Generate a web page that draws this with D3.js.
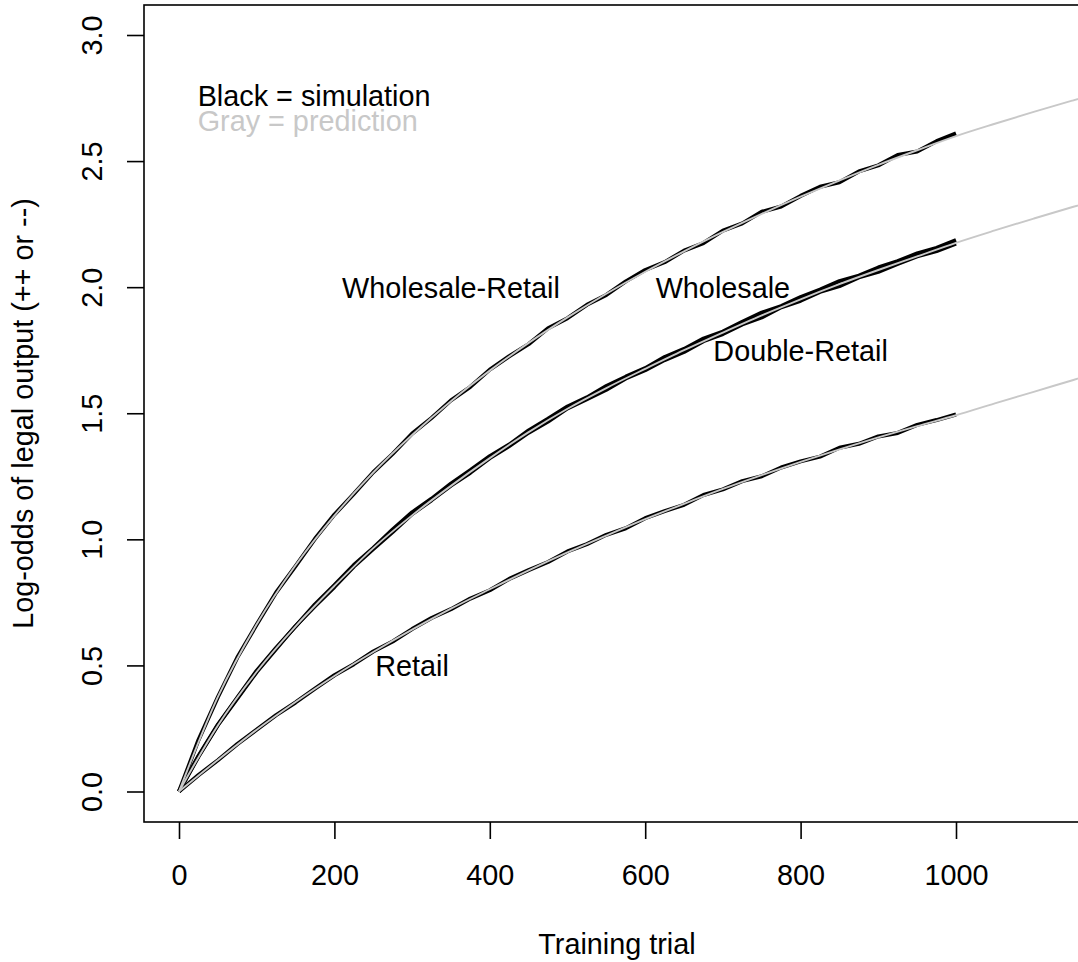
<!DOCTYPE html>
<html><head><meta charset="utf-8">
<script src="https://cdn.jsdelivr.net/npm/d3@7"></script>
<style>
body{margin:0;background:#fff}
text{font-family:"Liberation Sans",Arial,Helvetica,sans-serif}
</style></head>
<body><svg id="c" width="1078" height="962"></svg>
<script>
// ---------- data ----------
const xTicks = [0, 200, 400, 600, 800, 1000];
const yTicks = [0.0, 0.5, 1.0, 1.5, 2.0, 2.5, 3.0];

const simTrials = [0,25,50,75,100,125,150,175,200,225,250,275,300,325,350,375,400,425,450,475,500,
  525,550,575,600,625,650,675,700,725,750,775,800,825,850,875,900,925,950,975,1000];

const simWholesaleRetail = [0,.204,.374,.531,.662,.789,.894,1.002,1.098,1.180,1.266,1.339,1.419,1.481,1.551,1.605,1.673,1.726,1.774,1.837,1.877,
  1.930,1.969,2.023,2.068,2.099,2.145,2.175,2.224,2.253,2.299,2.320,2.362,2.398,2.416,2.459,2.483,2.524,2.538,2.579,2.610];
const simWholesale = [0,.141,.265,.372,.479,.570,.655,.742,.818,.898,.966,1.039,1.107,1.161,1.221,1.274,1.330,1.376,1.432,1.478,1.527,
  1.563,1.608,1.645,1.679,1.723,1.755,1.796,1.824,1.863,1.899,1.925,1.961,1.990,2.024,2.046,2.078,2.103,2.134,2.156,2.187];
const simDoubleRetail = [0,.138,.263,.369,.474,.565,.656,.735,.811,.892,.962,1.029,1.100,1.155,1.213,1.264,1.322,1.370,1.423,1.467,1.519,
  1.556,1.593,1.638,1.671,1.711,1.743,1.786,1.814,1.852,1.880,1.920,1.946,1.981,2.004,2.039,2.061,2.092,2.122,2.143,2.173];
const simRetail = [0,.065,.124,.188,.245,.303,.353,.408,.461,.505,.555,.595,.644,.688,.723,.765,.798,.843,.878,.910,.952,
  .981,1.018,1.044,1.084,1.112,1.137,1.176,1.198,1.231,1.250,1.285,1.309,1.328,1.363,1.379,1.408,1.422,1.454,1.473,1.495];

const predTrials = [0,50,100,150,200,250,300,350,400,450,500,550,600,650,700,750,800,850,900,950,1000,1050,1100,1150,1200];
const predWholesaleRetail = [0,.375,.663,.897,1.094,1.265,1.414,1.548,1.669,1.779,1.880,1.974,2.061,2.142,2.219,2.291,2.359,2.423,2.485,2.543,2.599,2.648,2.695,2.740,2.784];
const predWholesaleDouble = [0,.262,.475,.655,.815,.965,1.095,1.212,1.322,1.425,1.518,1.600,1.676,1.750,1.820,1.888,1.952,2.012,2.068,2.122,2.176,2.225,2.272,2.318,2.362];
const predRetail = [0,.125,.245,.355,.458,.553,.642,.725,.802,.877,.948,1.015,1.080,1.141,1.200,1.255,1.307,1.357,1.404,1.449,1.492,1.539,1.585,1.631,1.677];

const labels = [
  {text:"Wholesale-Retail", t:350, v:2.0},
  {text:"Wholesale", t:700, v:2.0},
  {text:"Double-Retail", t:800, v:1.75},
  {text:"Retail", t:300, v:0.5}
];
const legend = [
  {text:"Black = simulation", t:24, v:2.76, color:"#000"},
  {text:"Gray = prediction", t:24, v:2.66, color:"#c8c8c8"}
];

// ---------- chart ----------
const FS = 28.8;
const box = {l:144, t:5, r:1090, b:822};
const x = d3.scaleLinear().domain([0,1000]).range([179,956]);
const y = d3.scaleLinear().domain([0,3]).range([791.5,35]);
const svg = d3.select("#c");

svg.append("defs").append("clipPath").attr("id","clip")
  .append("rect").attr("x",box.l).attr("y",box.t).attr("width",box.r-box.l).attr("height",box.b-box.t);

const plot = svg.append("g").attr("clip-path","url(#clip)");
const line = (xs) => d3.line().x((d,i)=>x(xs[i])).y(d=>y(d));

[simWholesaleRetail, simWholesale, simDoubleRetail, simRetail].forEach(s=>{
  plot.append("path").datum(s).attr("d", line(simTrials))
    .attr("fill","none").attr("stroke","#000").attr("stroke-width",4)
    .attr("stroke-linejoin","round");
});
[predWholesaleRetail, predWholesaleDouble, predRetail].forEach(s=>{
  plot.append("path").datum(s).attr("d", line(predTrials).curve(d3.curveMonotoneX))
    .attr("fill","none").attr("stroke","#c8c8c8").attr("stroke-width",1.9);
});

// box
svg.append("rect").attr("x",box.l).attr("y",box.t).attr("width",box.r-box.l).attr("height",box.b-box.t)
  .attr("fill","none").attr("stroke","#000").attr("stroke-width",1.6);

// x axis
const gx = svg.append("g").attr("transform",`translate(0,${box.b})`)
  .call(d3.axisBottom(x).tickValues(xTicks).tickSize(17).tickFormat(d3.format("d")));
gx.select(".domain").remove();
gx.selectAll(".tick line").attr("stroke","#000").attr("stroke-width",1.6);
gx.selectAll(".tick text").attr("y",63).attr("dy",0).attr("fill","#000")
  .style("font-size",FS+"px").style("font-family",'"Liberation Sans",Arial,sans-serif');

// y axis
const gy = svg.append("g").attr("transform",`translate(${box.l},0)`)
  .call(d3.axisLeft(y).tickValues(yTicks).tickSize(17).tickFormat(d3.format(".1f")));
gy.select(".domain").remove();
gy.selectAll(".tick line").attr("stroke","#000").attr("stroke-width",1.6);
gy.selectAll(".tick text").attr("x",0).attr("y",0).attr("dy",0)
  .attr("transform","translate(-42,0) rotate(-90)").attr("text-anchor","middle").attr("fill","#000")
  .style("font-size",FS+"px").style("font-family",'"Liberation Sans",Arial,sans-serif');

// axis titles
svg.append("text").attr("x",(box.l+box.r)/2).attr("y",954).attr("text-anchor","middle")
  .style("font-size",FS+"px").text("Training trial");
svg.append("text").attr("transform",`translate(33,${(box.t+box.b)/2}) rotate(-90)`).attr("text-anchor","middle")
  .style("font-size",FS+"px").text("Log-odds of legal output (++ or --)");

// curve labels
labels.forEach(l=>{
  svg.append("text").attr("x",x(l.t)).attr("y",y(l.v)).attr("dy","0.36em")
    .attr("text-anchor","middle").style("font-size",FS+"px").attr("fill","#000").text(l.text);
});
legend.forEach(l=>{
  svg.append("text").attr("x",x(l.t)).attr("y",y(l.v)).attr("dy","0.36em")
    .attr("text-anchor","start").style("font-size",FS+"px").attr("fill",l.color).text(l.text);
});
</script></body></html>
